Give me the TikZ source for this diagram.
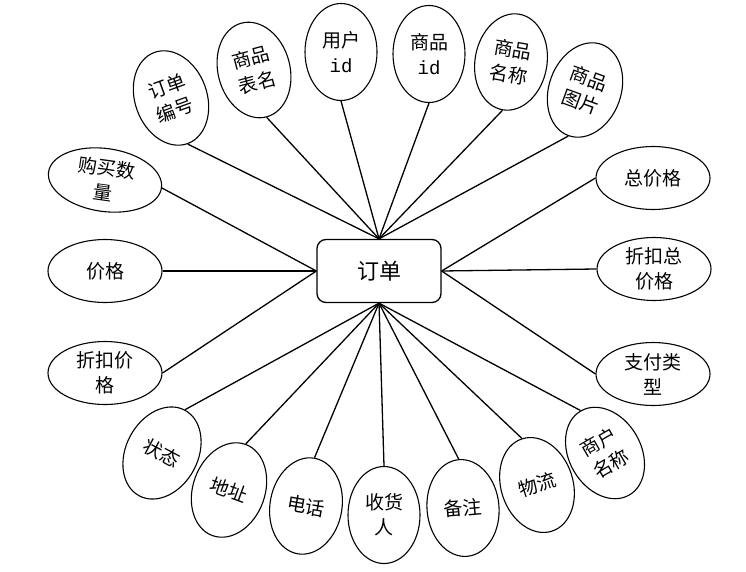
\documentclass[tikz,border=0pt]{standalone}
\usepackage{fontspec}
\newfontfamily\cjk{Noto Sans CJK SC}
\newfontfamily\idmono{Liberation Mono}
\usetikzlibrary{shapes.geometric}

\tikzset{
  attr/.style={draw, ellipse, line width=1.1pt, inner sep=0pt, align=center,
    minimum width=72pt, minimum height=97pt, font=\cjk\fontsize{19}{25}\selectfont},
  attrw/.style={attr, minimum width=114pt, minimum height=63pt},
  link/.style={line width=1.3pt},
}

\begin{document}
\begin{tikzpicture}[x=1pt,y=-1pt]
\useasboundingbox (0,0) rectangle (746,572);
\node[draw, rounded corners=9pt, line width=1.3pt, minimum width=124pt, minimum height=63pt,
  font=\cjk\fontsize{22}{26}\selectfont] (order) at (379,271) {订单};
% top
\node[attr,rotate=20]  (ordno)     at (171,98)  {订单\\编号};
\node[attr,rotate=15]  (tabname)   at (254,70)  {商品\\表名};
\node[attr]            (userid)    at (341,52)  {用户\\{\idmono id}};
\node[attr]            (goodsid)   at (429,54)  {商品\\{\idmono id}};
\node[attr,rotate=-10] (goodsname) at (511,62)  {商品\\名称};
\node[attr,rotate=-20] (goodspic)  at (585,90)  {商品\\图片};
% left
\node[attrw,rotate=-8] (qty)       at (105,180) {购买数\\量};
\node[attrw]           (price)     at (105,271) {价格};
\node[attrw]           (disprice)  at (105,373) {折扣价\\格};
% right
\node[attrw]           (total)     at (653,178) {总价格};
\node[attrw]           (distotal)  at (654,269) {折扣总\\价格};
\node[attrw]           (paytype)   at (653,374) {支付类\\型};
% bottom
\node[attr,rotate=-28] (state)     at (162,453) {状态};
\node[attr,rotate=-20] (addr)      at (229,490) {地址};
\node[attr,rotate=-10] (phone)     at (306,506) {电话};
\node[attr]            (receiver)  at (384,515) {收货\\人};
\node[attr,rotate=5]   (remark)    at (463,508) {备注};
\node[attr,rotate=18]  (logistics) at (537,485) {物流};
\node[attr,rotate=30]  (shop)      at (605,453) {商户\\名称};
% links
\foreach \n in {ordno,tabname,userid,goodsid,goodsname,goodspic}
  \draw[link] (\n.south) -- (order.north);
\foreach \n in {qty,price,disprice}
  \draw[link] (\n.east) -- (order.west);
\foreach \n in {total,distotal,paytype}
  \draw[link] (\n.west) -- (order.east);
\foreach \n in {state,addr,phone,receiver,remark,logistics,shop}
  \draw[link] (\n.north) -- (order.south);
\end{tikzpicture}
\end{document}
